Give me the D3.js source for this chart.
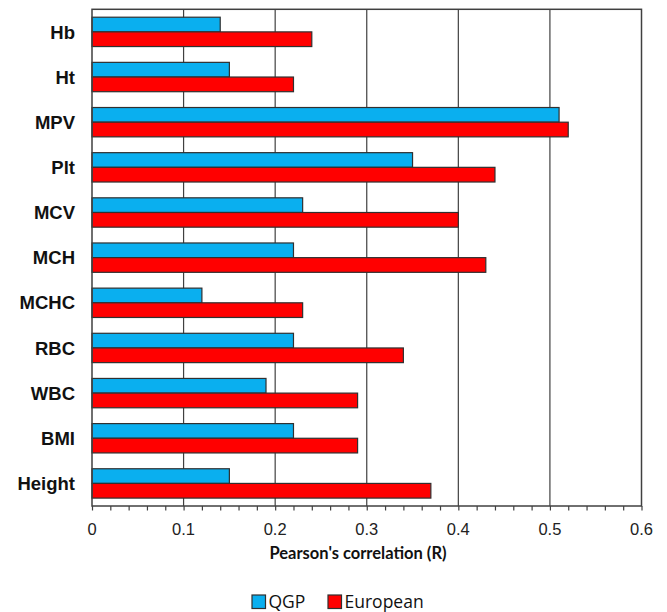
<!DOCTYPE html>
<html><head><meta charset="utf-8">
<script src="https://cdn.jsdelivr.net/npm/d3@7"></script>
<style>body{margin:0;background:#fff}</style>
</head><body>
<svg id="c" width="667" height="612"></svg>
<script>
const categories = ["Hb","Ht","MPV","Plt","MCV","MCH","MCHC","RBC","WBC","BMI","Height"];
const qgp      = [0.14,0.15,0.51,0.35,0.23,0.22,0.12,0.22,0.19,0.22,0.15];
const european = [0.24,0.22,0.52,0.44,0.40,0.43,0.23,0.34,0.29,0.29,0.37];
const seriesNames = ["QGP","European"];
const colors = ["#0AAFEF","#FF0000"];
const xTicks = [0,0.1,0.2,0.3,0.4,0.5,0.6];

const svg = d3.select("#c");
const L=92, R=641.5, T=9.3, B=506;
const x = d3.scaleLinear().domain([0,0.6]).range([L,R]);
const y = d3.scaleBand().domain(categories).range([T,B]).paddingInner(0.35).paddingOuter(0.175);
const ys = d3.scaleBand().domain(seriesNames).range([0,y.bandwidth()]);

// grid
svg.append("g").selectAll("line").data(xTicks.slice(1,-1)).join("line")
  .attr("x1",d=>x(d)).attr("x2",d=>x(d)).attr("y1",T).attr("y2",B)
  .attr("stroke","#404040").attr("stroke-width",1.2);

// bars
const data = categories.map((c,i)=>({c, vals:[qgp[i],european[i]]}));
const g = svg.append("g").selectAll("g").data(data).join("g")
  .attr("transform",d=>`translate(0,${y(d.c)})`);
g.selectAll("rect").data(d=>d.vals.map((v,j)=>({v,s:seriesNames[j],j}))).join("rect")
  .attr("x",x(0)).attr("y",d=>ys(d.s)).attr("width",d=>x(d.v)-x(0)).attr("height",ys.bandwidth())
  .attr("fill",d=>colors[d.j]).attr("stroke","#303030").attr("stroke-width",1.2);

// frame
svg.append("rect").attr("x",L).attr("y",T).attr("width",R-L).attr("height",B-T)
  .attr("fill","none").attr("stroke","#404040").attr("stroke-width",1.5);

// x axis
const ax = svg.append("g").attr("transform",`translate(0,${B})`)
  .call(d3.axisBottom(x).tickValues(d3.range(0,0.6001,0.02)).tickSize(4.5).tickFormat(""));
ax.select(".domain").remove();
ax.selectAll("line").attr("stroke","#404040").attr("stroke-width",1.2);
svg.append("g").selectAll("text").data(xTicks).join("text")
  .attr("x",d=>x(d)).attr("y",B+29).attr("text-anchor","middle")
  .attr("font-family","Liberation Sans, Arial, sans-serif").attr("font-size",16.5).attr("fill","#222")
  .text(d=>d3.format("")(d));

svg.append("text").attr("x",358).attr("y",558.5).attr("text-anchor","middle")
  .attr("font-family","Lato, Open Sans, sans-serif").attr("font-weight","bold").attr("font-size",16.5).attr("fill","#111")
  .text("Pearson's correlation (R)");

// category labels
svg.append("g").selectAll("text").data(categories).join("text")
  .attr("x",75).attr("y",d=>y(d)+y.bandwidth()/2).attr("dy","0.36em").attr("text-anchor","end")
  .attr("font-family","Liberation Sans, Arial, sans-serif").attr("font-weight","bold").attr("font-size",18.5).attr("fill","#111")
  .text(d=>d);

// legend
const lg = svg.append("g");
const items = [{n:"QGP",x:252},{n:"European",x:328}];
items.forEach((it,i)=>{
  lg.append("rect").attr("x",it.x).attr("y",595).attr("width",13.5).attr("height",13.5)
    .attr("fill",colors[i]).attr("stroke","#303030").attr("stroke-width",1.2);
  lg.append("text").attr("x",it.x+16.5).attr("y",607.5)
    .attr("font-family","Open Sans, Lato, sans-serif").attr("font-size",17.5).attr("fill","#111").text(it.n);
});
</script>
</body></html>
